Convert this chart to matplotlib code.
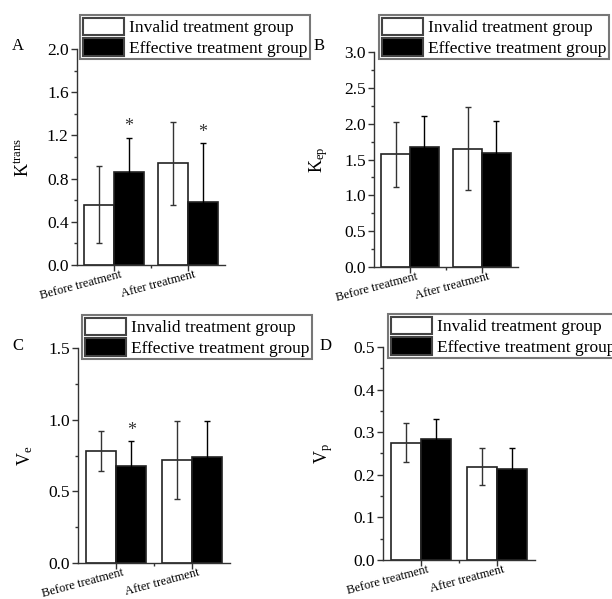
import matplotlib
matplotlib.use("Agg")
import matplotlib.pyplot as plt
import numpy as np
from matplotlib.ticker import MultipleLocator, FixedLocator

plt.rcParams['font.family'] = ['Liberation Serif', 'DejaVu Serif']
plt.rcParams['mathtext.fontset'] = 'custom'
plt.rcParams['mathtext.rm'] = 'Liberation Serif'
plt.rcParams['mathtext.it'] = 'Liberation Serif:italic'

categories = ["Before treatment", "After treatment"]
series_names = ["Invalid treatment group", "Effective treatment group"]

ktrans_invalid = [0.56, 0.94]
ktrans_invalid_sd = [0.36, 0.38]
ktrans_effective = [0.86, 0.58]
ktrans_effective_sd = [0.32, 0.55]

kep_invalid = [1.57, 1.65]
kep_invalid_sd = [0.46, 0.58]
kep_effective = [1.68, 1.59]
kep_effective_sd = [0.43, 0.45]

ve_invalid = [0.78, 0.72]
ve_invalid_sd = [0.14, 0.27]
ve_effective = [0.68, 0.74]
ve_effective_sd = [0.17, 0.25]

vp_invalid = [0.275, 0.219]
vp_invalid_sd = [0.046, 0.043]
vp_effective = [0.283, 0.214]
vp_effective_sd = [0.048, 0.048]

W, H = 612, 599
fig = plt.figure(figsize=(W / 100, H / 100), dpi=100)


def rect(left, top, right, bottom):
    return [left / W, 1 - bottom / H, (right - left) / W, (bottom - top) / H]


panels = [
    dict(name="A", ylabel=r"$\mathrm{K}^{\mathrm{trans}}$",
         inv=ktrans_invalid, inv_sd=ktrans_invalid_sd,
         eff=ktrans_effective, eff_sd=ktrans_effective_sd,
         star=[True, True], ymax=2.0, major=0.4, minor=0.2,
         box=(77, 49, 225, 265), leg=(80, 15), lab=(12, 50), ylab=32),
    dict(name="B", ylabel=r"$\mathrm{K}_{\mathrm{ep}}$",
         inv=kep_invalid, inv_sd=kep_invalid_sd,
         eff=kep_effective, eff_sd=kep_effective_sd,
         star=[False, False], ymax=3.0, major=0.5, minor=0.25,
         box=(374, 52, 518, 267), leg=(379, 15), lab=(314, 50), ylab=330),
    dict(name="C", ylabel=r"$\mathrm{V}_{\mathrm{e}}$",
         inv=ve_invalid, inv_sd=ve_invalid_sd,
         eff=ve_effective, eff_sd=ve_effective_sd,
         star=[True, False], ymax=1.5, major=0.5, minor=0.25,
         box=(78, 348, 230, 563), leg=(82, 315), lab=(12, 350), ylab=35),
    dict(name="D", ylabel=r"$\mathrm{V}_{\mathrm{p}}$",
         inv=vp_invalid, inv_sd=vp_invalid_sd,
         eff=vp_effective, eff_sd=vp_effective_sd,
         star=[False, False], ymax=0.5, major=0.1, minor=0.05,
         box=(383, 347, 535, 560), leg=(388, 314), lab=(320, 350), ylab=335),
]

x = np.array([1, 2])
w = 0.4
edge = "#222222"

for p in panels:
    ax = fig.add_axes(rect(*p["box"]))
    b1 = ax.bar(x - w / 2, p["inv"], w, yerr=p["inv_sd"], color="white",
                edgecolor=edge, linewidth=1.2, capsize=2.5,
                error_kw=dict(ecolor="#333333", elinewidth=1, capthick=1),
                label=series_names[0], zorder=2)
    b2 = ax.bar(x + w / 2, p["eff"], w, yerr=p["eff_sd"], color="black",
                edgecolor=edge, linewidth=1.2, capsize=2.5,
                error_kw=dict(ecolor="black", elinewidth=1, capthick=1),
                label=series_names[1], zorder=2)
    for i, s in enumerate(p["star"]):
        if s:
            ax.text(x[i] + w / 2, p["eff"][i] + p["eff_sd"][i] + p["ymax"] * 0.01,
                    "*", ha="center", va="bottom", fontsize=13, color="#333333")

    ax.set_xlim(0.5, 2.5)
    ax.set_ylim(0, p["ymax"])
    for sp in ["top", "right"]:
        ax.spines[sp].set_visible(False)
    for sp in ["left", "bottom"]:
        ax.spines[sp].set_linewidth(1.0)
        ax.spines[sp].set_color("#333333")

    yt = np.arange(0, p["ymax"] + 1e-9, p["major"])
    ax.set_yticks(yt)
    ax.set_yticklabels(["{:.1f}".format(v) for v in yt], fontsize=12.5)
    ax.yaxis.set_minor_locator(MultipleLocator(p["minor"]))
    ax.set_xticks(x)
    ax.xaxis.set_minor_locator(FixedLocator([1.5]))
    ax.tick_params(which="major", direction="out", length=4, width=1,
                   color="#333333", pad=2)
    ax.tick_params(which="minor", direction="out", length=2.5, width=1,
                   color="#333333")
    ax.tick_params(axis="x", labelbottom=False)
    # slanted category labels, nudged right of the tick like the original
    for xi, cat in zip(x, categories):
        ax.annotate(cat, xy=(xi, 0), xycoords=("data", "axes fraction"),
                    xytext=(4, -2.5), textcoords="offset points",
                    rotation=15, rotation_mode="anchor", ha="right", va="top",
                    fontsize=9)

    ax.set_ylabel(p["ylabel"], fontsize=13)
    ax.yaxis.set_label_coords(p["ylab"] / W, 0.5, transform=fig.transFigure)
    ax.yaxis.label.set_y(1 - (p["box"][1] + p["box"][3]) / 2 / H)

    fig.text(p["lab"][0] / W, 1 - p["lab"][1] / H, p["name"], fontsize=12,
             ha="left", va="baseline")

    leg = ax.legend(handles=[b1, b2], loc="upper left",
                    bbox_to_anchor=(p["leg"][0] / W, 1 - p["leg"][1] / H),
                    bbox_transform=fig.transFigure, fontsize=12.5,
                    frameon=True, fancybox=False, borderpad=0.15,
                    labelspacing=0.1, handlelength=2.4, handleheight=1.2,
                    handletextpad=0.3, borderaxespad=0)
    leg.get_frame().set_edgecolor("#555555")
    leg.get_frame().set_linewidth(1.5)
    for h in leg.legend_handles:
        h.set_linewidth(1.5)
        h.set_edgecolor("#444444")

fig.savefig("out.png", dpi=100)
